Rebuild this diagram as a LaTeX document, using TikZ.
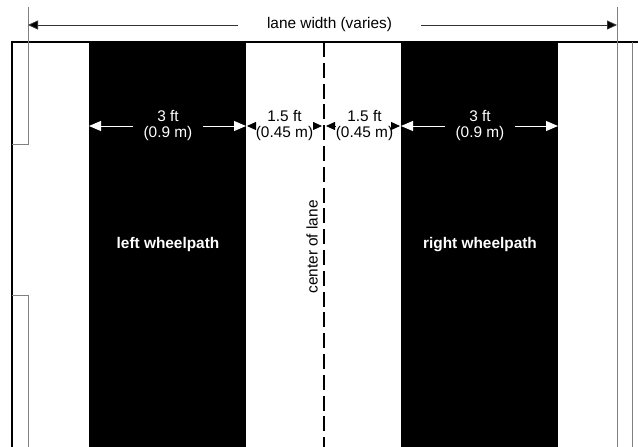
\documentclass[tikz,border=0pt]{standalone}
\usepackage{fontspec}
\setmainfont{Liberation Sans}
\usetikzlibrary{arrows.meta}
\begin{document}
\begin{tikzpicture}[x=1pt,y=-1pt,
  lbl/.style={font=\fontsize{15.4}{16}\selectfont, align=center, inner sep=0pt},
  wlbl/.style={font=\fontsize{15.4}{16}\selectfont\bfseries, text=white, inner sep=0pt},
  wpath/.style={fill=black, draw=none, inner sep=0pt, anchor=north west, minimum width=157pt, minimum height=405pt},
  guide/.style={draw=black!50, line width=1pt},
  frame/.style={draw=black, line width=1.6pt},
  dimblack/.style={draw=black!80, line width=0.8pt, -{Triangle[length=10pt,width=9pt,fill=black]}},
  dimwhite/.style={draw=white, line width=1pt, -{Triangle[length=12pt,width=10pt,fill=white]}},
  dimsmall/.style={draw=black, line width=0.8pt, -{Triangle[length=9pt,width=8pt,fill=black]}},
  centerline/.style={draw=black, line width=2pt, dash pattern=on 15pt off 5.8pt}
]
\useasboundingbox (0,0) rectangle (638,447);
\fill[white] (0,0) rectangle (638,447);

% wheelpaths
\node[wpath] (lwp) at (89,42) {};
\node[wpath] (rwp) at (401,42) {};

% frame
\draw[frame] (12,447) -- (12,42) -- (638,42);

% guide lines
\draw[guide] (28,7) -- (28,144) -- (12,144);
\draw[guide] (12,295) -- (28,295) -- (28,447);
\draw[guide] (617,7) -- (617,447);
\draw[guide] (632,42) -- (632,447);

% center line
\coordinate (ctop) at (324,42);
\coordinate (cbot) at (324,447);
\draw[centerline] (ctop) -- (cbot);
\node[lbl, rotate=90] (cl) at (312,247) {center of lane};

% lane width
\node[lbl, inner xsep=29pt] (lw) at (329.5,25) {lane width (varies)};
\coordinate (lwL) at (28,25);
\coordinate (lwR) at (617,25);
\draw[dimblack] (lw.west) -- (lwL);
\draw[dimblack] (lw.east) -- (lwR);

% left wheelpath dimension
\node[lbl, text=white, inner xsep=10pt] (a) at (168,126) {3 ft\\(0.9 m)};
\coordinate (a1) at (89,126);
\coordinate (a2) at (246,126);
\draw[dimwhite] (a.west) -- (a1);
\draw[dimwhite] (a.east) -- (a2);

% 1.5 ft left
\node[lbl, inner xsep=1pt] (b) at (284.5,126) {1.5 ft\\(0.45 m)};
\coordinate (b1) at (247,126);
\coordinate (b2) at (322,126);
\draw[dimsmall] (b.west) -- (b1);
\draw[dimsmall] (b.east) -- (b2);

% 1.5 ft right
\node[lbl, inner xsep=1pt] (c) at (364.5,126) {1.5 ft\\(0.45 m)};
\coordinate (c1) at (326,126);
\coordinate (c2) at (400,126);
\draw[dimsmall] (c.west) -- (c1);
\draw[dimsmall] (c.east) -- (c2);

% right wheelpath dimension
\node[lbl, text=white, inner xsep=10pt] (d) at (480,126) {3 ft\\(0.9 m)};
\coordinate (d1) at (401,126);
\coordinate (d2) at (558,126);
\draw[dimwhite] (d.west) -- (d1);
\draw[dimwhite] (d.east) -- (d2);

% wheelpath labels
\node[wlbl] (lwl) at (168,245) {left wheelpath};
\node[wlbl] (rwl) at (480,245) {right wheelpath};
\end{tikzpicture}
\end{document}
